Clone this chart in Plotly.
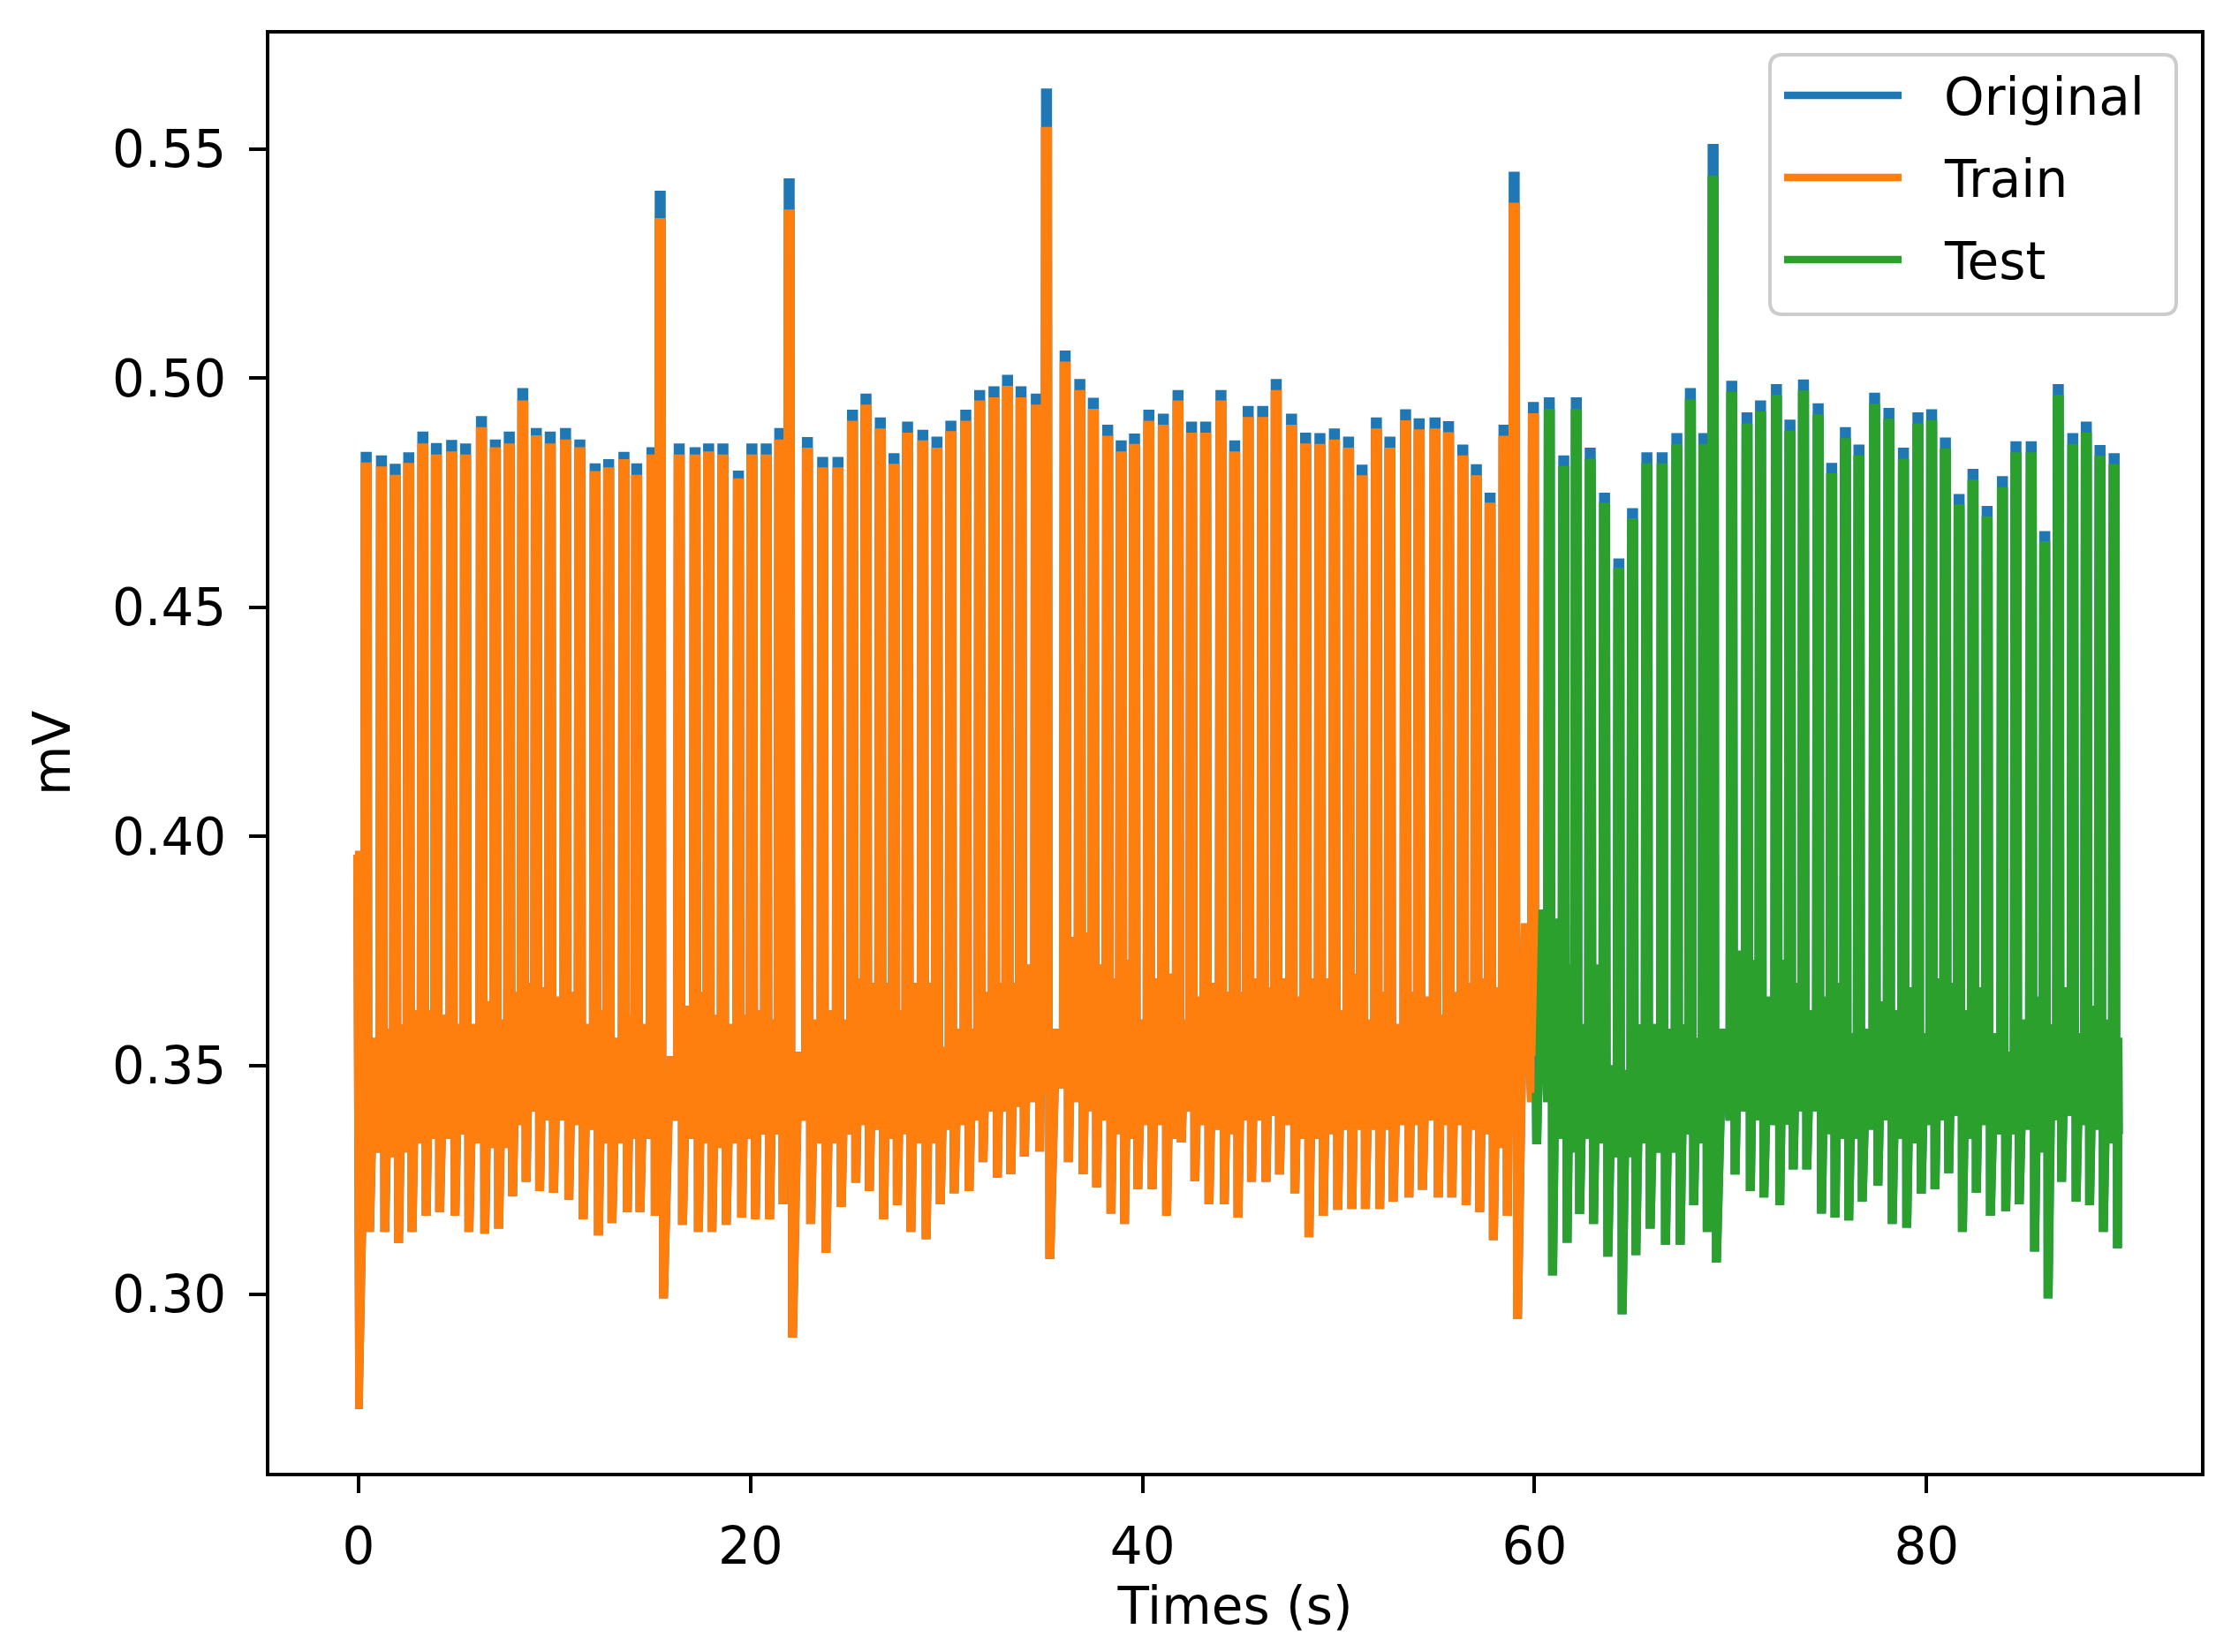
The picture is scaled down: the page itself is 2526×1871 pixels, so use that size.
import plotly.graph_objects as go

# ---------------- data ----------------
# R-peak times (s) of each beat
beat_t = [
    0.39, 1.17, 1.87, 2.56, 3.28, 3.97, 4.75, 5.46, 6.27, 6.98,
    7.69, 8.38, 9.07, 9.78, 10.56, 11.29, 12.07, 12.76, 13.54, 14.19,
    14.97, 15.39, 16.36, 17.17, 17.86, 18.59, 19.38, 20.07, 20.80, 21.49,
    21.97, 22.90, 23.68, 24.46, 25.20, 25.89, 26.62, 27.32, 28.01, 28.79,
    29.51, 30.22, 30.98, 31.69, 32.42, 33.11, 33.80, 34.58, 35.10, 36.05,
    36.80, 37.49, 38.22, 38.91, 39.59, 40.32, 41.06, 41.81, 42.50, 43.22,
    44.00, 44.70, 45.39, 46.13, 46.82, 47.60, 48.32, 49.05, 49.79, 50.51,
    51.20, 51.93, 52.62, 53.42, 54.11, 54.92, 55.61, 56.34, 57.03, 57.73,
    58.44, 58.96, 59.94, 60.75, 61.49, 62.13, 62.84, 63.57, 64.30, 65.00,
    65.73, 66.51, 67.26, 67.95, 68.64, 69.11, 70.06, 70.84, 71.53, 72.34,
    73.03, 73.72, 74.47, 75.16, 75.86, 76.55, 77.35, 78.08, 78.82, 79.56,
    80.26, 80.96, 81.66, 82.37, 83.09, 83.87, 84.56, 85.34, 86.03, 86.72,
    87.46, 88.15, 88.85, 89.57]

# R-peak value of the original signal (mV)
orig_r = [
    0.4831, 0.4823, 0.4805, 0.4830, 0.4875, 0.4850, 0.4857, 0.4849, 0.4909, 0.4858,
    0.4875, 0.4970, 0.4883, 0.4875, 0.4883, 0.4858, 0.4806, 0.4815, 0.4831, 0.4806,
    0.4841, 0.5401, 0.4849, 0.4841, 0.4849, 0.4849, 0.4790, 0.4849, 0.4849, 0.4883,
    0.5428, 0.4863, 0.4820, 0.4820, 0.4923, 0.4958, 0.4906, 0.4828, 0.4897, 0.4879,
    0.4864, 0.4899, 0.4923, 0.4966, 0.4974, 0.4999, 0.4974, 0.4958, 0.5624, 0.5052,
    0.4990, 0.4949, 0.4890, 0.4856, 0.4871, 0.4923, 0.4914, 0.4966, 0.4897, 0.4897,
    0.4966, 0.4856, 0.4931, 0.4931, 0.4990, 0.4914, 0.4873, 0.4872, 0.4882, 0.4864,
    0.4803, 0.4906, 0.4864, 0.4924, 0.4904, 0.4906, 0.4898, 0.4847, 0.4804, 0.4742,
    0.4890, 0.5442, 0.4940, 0.4950, 0.4823, 0.4950, 0.4840, 0.4742, 0.4598, 0.4708,
    0.4830, 0.4830, 0.4872, 0.4970, 0.4872, 0.5503, 0.4986, 0.4917, 0.4943, 0.4979,
    0.4901, 0.4989, 0.4937, 0.4807, 0.4885, 0.4847, 0.4960, 0.4927, 0.4840, 0.4917,
    0.4924, 0.4862, 0.4739, 0.4794, 0.4713, 0.4778, 0.4854, 0.4854, 0.4658, 0.4979,
    0.4872, 0.4897, 0.4846, 0.4828]

# R-peak value of the Train / Test prediction (mV)
pred_r = [
    0.4808, 0.4799, 0.4781, 0.4807, 0.4849, 0.4825, 0.4832, 0.4825, 0.4885, 0.4841,
    0.4849, 0.4943, 0.4867, 0.4849, 0.4858, 0.4841, 0.4789, 0.4797, 0.4815, 0.4781,
    0.4825, 0.5341, 0.4825, 0.4825, 0.4832, 0.4825, 0.4773, 0.4825, 0.4825, 0.4858,
    0.5360, 0.4840, 0.4797, 0.4797, 0.4899, 0.4934, 0.4882, 0.4805, 0.4873, 0.4856,
    0.4840, 0.4876, 0.4899, 0.4943, 0.4950, 0.4975, 0.4950, 0.4934, 0.5540, 0.5028,
    0.4966, 0.4925, 0.4866, 0.4832, 0.4848, 0.4899, 0.4890, 0.4943, 0.4873, 0.4873,
    0.4943, 0.4832, 0.4907, 0.4907, 0.4966, 0.4890, 0.4849, 0.4848, 0.4858, 0.4840,
    0.4780, 0.4882, 0.4840, 0.4900, 0.4880, 0.4882, 0.4874, 0.4823, 0.4780, 0.4720,
    0.4866, 0.5375, 0.4915, 0.4925, 0.4800, 0.4925, 0.4816, 0.4720, 0.4578, 0.4686,
    0.4806, 0.4806, 0.4848, 0.4945, 0.4848, 0.5434, 0.4962, 0.4893, 0.4919, 0.4955,
    0.4877, 0.4965, 0.4913, 0.4784, 0.4861, 0.4823, 0.4936, 0.4903, 0.4816, 0.4893,
    0.4900, 0.4838, 0.4716, 0.4770, 0.4690, 0.4754, 0.4830, 0.4830, 0.4636, 0.4955,
    0.4848, 0.4873, 0.4822, 0.4804]

# S-trough value following each R peak (mV)
s_val = [
    0.3145, 0.3145, 0.3120, 0.3145, 0.3180, 0.3188, 0.3180, 0.3145, 0.3141, 0.3152,
    0.3223, 0.3254, 0.3234, 0.3230, 0.3215, 0.3172, 0.3137, 0.3164, 0.3188, 0.3188,
    0.3180, 0.3000, 0.3160, 0.3145, 0.3145, 0.3160, 0.3176, 0.3172, 0.3172, 0.3205,
    0.2914, 0.3162, 0.3099, 0.3199, 0.3252, 0.3234, 0.3172, 0.3203, 0.3145, 0.3129,
    0.3205, 0.3229, 0.3234, 0.3297, 0.3263, 0.3271, 0.3309, 0.3320, 0.3086, 0.3297,
    0.3271, 0.3242, 0.3185, 0.3162, 0.3238, 0.3238, 0.3180, 0.3340, 0.3255, 0.3205,
    0.3205, 0.3176, 0.3254, 0.3254, 0.3270, 0.3229, 0.3133, 0.3180, 0.3193, 0.3195,
    0.3195, 0.3195, 0.3211, 0.3220, 0.3237, 0.3220, 0.3220, 0.3203, 0.3188, 0.3127,
    0.3180, 0.2955, 0.3336, 0.3050, 0.3121, 0.3184, 0.3162, 0.3091, 0.2965, 0.3094,
    0.3152, 0.3117, 0.3117, 0.3203, 0.3145, 0.3078, 0.3270, 0.3234, 0.3220, 0.3203,
    0.3281, 0.3281, 0.3185, 0.3176, 0.3170, 0.3211, 0.3246, 0.3162, 0.3154, 0.3228,
    0.3238, 0.3273, 0.3145, 0.3230, 0.3180, 0.3190, 0.3205, 0.3102, 0.3000, 0.3254,
    0.3211, 0.3203, 0.3145, 0.3109]

# T-wave top reached between beats (mV)
top_val = [
    0.356, 0.358, 0.359, 0.362, 0.362, 0.361, 0.359, 0.359, 0.364, 0.360,
    0.366, 0.368, 0.367, 0.365, 0.366, 0.359, 0.362, 0.356, 0.361, 0.359,
    0.362, 0.352, 0.363, 0.366, 0.361, 0.359, 0.361, 0.362, 0.360, 0.366,
    0.353, 0.360, 0.362, 0.360, 0.369, 0.368, 0.368, 0.362, 0.368, 0.368,
    0.354, 0.358, 0.358, 0.366, 0.368, 0.368, 0.372, 0.373, 0.358, 0.378,
    0.379, 0.372, 0.369, 0.373, 0.360, 0.369, 0.370, 0.360, 0.365, 0.368,
    0.366, 0.366, 0.369, 0.367, 0.369, 0.365, 0.369, 0.369, 0.362, 0.370,
    0.360, 0.366, 0.359, 0.366, 0.365, 0.361, 0.366, 0.368, 0.369, 0.367,
    0.364, 0.381, 0.384, 0.382, 0.372, 0.359, 0.372, 0.350, 0.349, 0.359,
    0.359, 0.358, 0.359, 0.356, 0.352, 0.358, 0.375, 0.373, 0.365, 0.373,
    0.368, 0.362, 0.365, 0.368, 0.357, 0.358, 0.364, 0.362, 0.367, 0.357,
    0.369, 0.368, 0.362, 0.367, 0.357, 0.353, 0.360, 0.365, 0.359, 0.367,
    0.357, 0.363, 0.360, 0.356]

# low level of the band just before the next beat (mV)
lo_val = [
    0.331, 0.330, 0.331, 0.333, 0.334, 0.334, 0.335, 0.333, 0.332, 0.332,
    0.337, 0.340, 0.338, 0.338, 0.337, 0.336, 0.333, 0.333, 0.334, 0.334,
    0.335, 0.338, 0.334, 0.333, 0.332, 0.333, 0.334, 0.335, 0.335, 0.336,
    0.338, 0.333, 0.333, 0.335, 0.337, 0.336, 0.334, 0.335, 0.333, 0.333,
    0.336, 0.337, 0.338, 0.340, 0.340, 0.341, 0.342, 0.344, 0.345, 0.342,
    0.340, 0.338, 0.335, 0.334, 0.337, 0.337, 0.334, 0.340, 0.337, 0.336,
    0.335, 0.338, 0.338, 0.339, 0.337, 0.334, 0.334, 0.335, 0.336, 0.336,
    0.336, 0.336, 0.337, 0.337, 0.338, 0.337, 0.337, 0.336, 0.335, 0.332,
    0.335, 0.342, 0.342, 0.334, 0.331, 0.334, 0.333, 0.330, 0.330, 0.333,
    0.331, 0.331, 0.335, 0.333, 0.334, 0.338, 0.340, 0.338, 0.337, 0.337,
    0.340, 0.340, 0.335, 0.334, 0.334, 0.336, 0.338, 0.334, 0.333, 0.337,
    0.338, 0.339, 0.334, 0.337, 0.335, 0.335, 0.336, 0.331, 0.338, 0.339,
    0.337, 0.336, 0.333, 0.335]

# start of the recording, end of the recording, train/test hand-over
start_t = [-0.18, -0.08, 0.02, 0.27]
start_v = [0.396, 0.396, 0.275, 0.331]
end_t = [89.95]
end_v = [0.335]
split_t = [60.04, 60.05]
split_v = [0.352, 0.344]

x_ticks = [0, 20, 40, 60, 80]
y_ticks = [0.30, 0.35, 0.40, 0.45, 0.50, 0.55]
y_tick_text = ["0.30", "0.35", "0.40", "0.45", "0.50", "0.55"]
series_names = ["Original", "Train", "Test"]
series_colors = ["#1f77b4", "#ff7f0e", "#2ca02c"]

# ---------------- build the traces ----------------
split_idx = beat_t.index(59.94)


def build_path(r_vals):
    xs, ys = list(start_t), list(start_v)
    n = len(beat_t)
    for i in range(n):
        t = beat_t[i]
        nt = beat_t[i + 1] if i + 1 < n else end_t[0]
        dt = nt - t
        # flat-topped R wave
        xs += [t - 0.09, t + 0.09]
        ys += [r_vals[i], r_vals[i]]
        if i == split_idx:
            xs += split_t
            ys += split_v
        # S trough
        xs += [t + 0.13, t + 0.21]
        ys += [s_val[i], s_val[i]]
        # T wave top, then band low before the next beat
        xs.append(t + 0.5 * dt + 0.04)
        ys.append(top_val[i])
        xs.append(nt - 0.13)
        ys.append(lo_val[i])
    xs += end_t
    ys += end_v
    return xs, ys


ox, oy = build_path(orig_r)
px, py = build_path(pred_r)
train_x = [x for x in px if x <= split_t[0]]
train_y = [y for x, y in zip(px, py) if x <= split_t[0]]
test_x = [x for x in px if x >= split_t[1]]
test_y = [y for x, y in zip(px, py) if x >= split_t[1]]

LW = 8.5
fig = go.Figure()
fig.add_trace(go.Scatter(x=ox, y=oy, mode="lines", name=series_names[0],
                         line=dict(color=series_colors[0], width=LW, simplify=False)))
fig.add_trace(go.Scatter(x=train_x, y=train_y, mode="lines", name=series_names[1],
                         line=dict(color=series_colors[1], width=LW, simplify=False)))
fig.add_trace(go.Scatter(x=test_x, y=test_y, mode="lines", name=series_names[2],
                         line=dict(color=series_colors[2], width=LW, simplify=False)))

# ---------------- layout ----------------
W, H = 2526, 1871
L, R, T, B = 297, 2484, 30, 1660
FS = 58
FONT = "DejaVu Sans"

axis_common = dict(showgrid=False, zeroline=False, showline=True, linecolor="black",
                   linewidth=4.4, mirror=True, ticks="outside", ticklen=19,
                   tickwidth=4.4, tickcolor="black",
                   tickfont=dict(family=FONT, size=FS, color="black"))

fig.update_layout(
    width=W, height=H,
    margin=dict(l=L, r=W - R, t=T, b=H - B),
    paper_bgcolor="white", plot_bgcolor="white",
    showlegend=False,
    font=dict(family=FONT, size=FS, color="black"),
    xaxis=dict(range=[-4.55, 94.0], tickvals=x_ticks, ticklabelstandoff=10,
               title=dict(text="Times (s)", standoff=16,
                          font=dict(family=FONT, size=FS, color="black")),
               **axis_common),
    yaxis=dict(range=[0.2611, 0.5752], tickvals=y_ticks, ticktext=y_tick_text,
               ticklabelstandoff=14,
               title=dict(text="mV", standoff=30,
                          font=dict(family=FONT, size=FS, color="black")),
               **axis_common),
)


# ---------------- legend drawn like the matplotlib one ----------------
def pxx(p):
    return (p - L) / (R - L)


def pxy(p):
    return (B - p) / (B - T)


bx0, bx1, by0, by1 = 1996, 2456, 54, 348
rad = 14
rx = rad / (R - L)
ry = rad / (B - T)
X0, X1, Y0, Y1 = pxx(bx0), pxx(bx1), pxy(by1), pxy(by0)
box_path = (f"M {X0+rx},{Y1} L {X1-rx},{Y1} Q {X1},{Y1} {X1},{Y1-ry} "
            f"L {X1},{Y0+ry} Q {X1},{Y0} {X1-rx},{Y0} L {X0+rx},{Y0} "
            f"Q {X0},{Y0} {X0},{Y0+ry} L {X0},{Y1-ry} Q {X0},{Y1} {X0+rx},{Y1} Z")
fig.add_shape(type="path", path=box_path, xref="paper", yref="paper",
              line=dict(color="rgba(204,204,204,1)", width=4),
              fillcolor="rgba(255,255,255,0.8)", layer="above")

entry_y = [100, 193, 286]
for name, col, ey in zip(series_names, series_colors, entry_y):
    fig.add_shape(type="line", xref="paper", yref="paper",
                  x0=pxx(2012), x1=pxx(2145), y0=pxy(ey), y1=pxy(ey),
                  line=dict(color=col, width=LW), layer="above")
    fig.add_annotation(x=pxx(2191), y=pxy(ey + 2), xref="paper", yref="paper",
                       text=name, showarrow=False, xanchor="left", yanchor="middle",
                       font=dict(family=FONT, size=FS, color="black"))

fig.write_html("out.html")
